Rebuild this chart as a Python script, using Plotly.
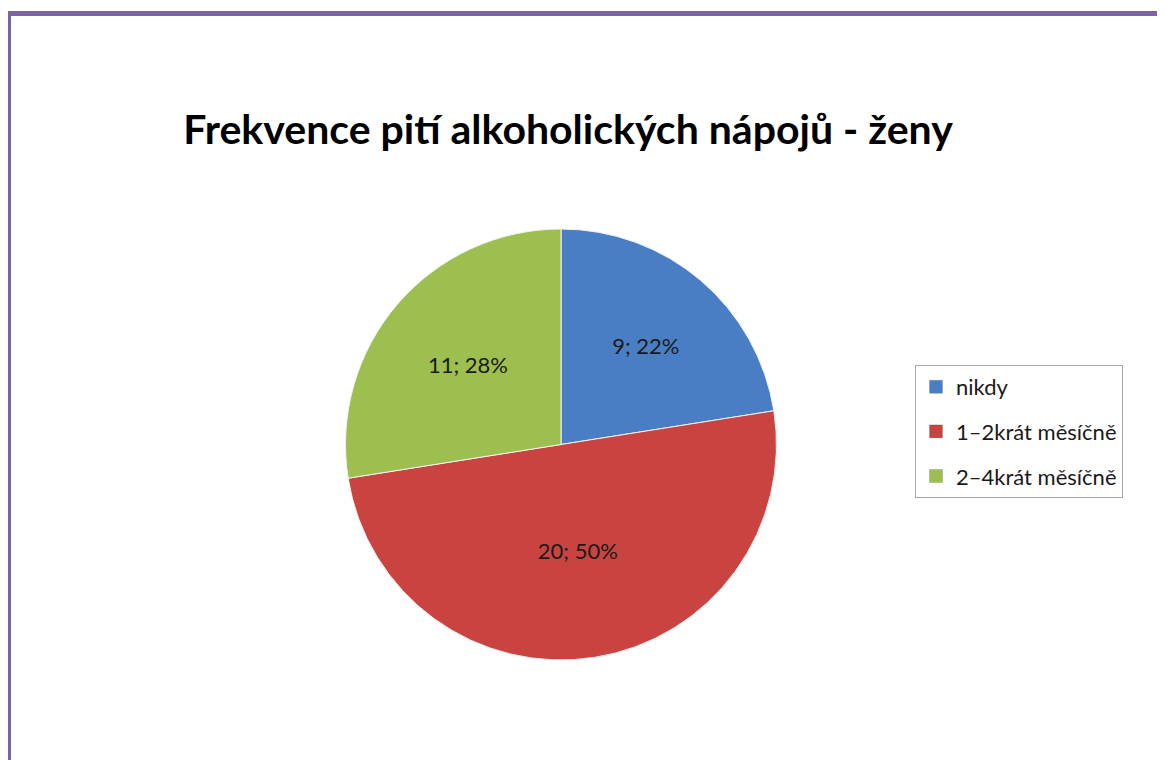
import plotly.graph_objects as go

# data
categories = ["nikdy", "1–2krát měsíčně", "2–4krát měsíčně"]
counts = [9, 20, 11]
pct_labels = ["22%", "50%", "28%"]
colors = ["#4A7EC4", "#C94441", "#9CBF4F"]

FONT = "Lato, 'Open Sans', sans-serif"
W, H = 1165, 760

fig = go.Figure()

fig.add_trace(go.Pie(
    labels=categories,
    values=counts,
    text=pct_labels,
    texttemplate="%{value}; %{text}",
    textinfo="text",
    textposition="inside",
    insidetextorientation="horizontal",
    textfont=dict(family=FONT, size=22, color="#1a1a1a"),
    marker=dict(colors=colors, line=dict(color="#f3f3f3", width=1)),
    sort=False,
    direction="clockwise",
    rotation=0,
    showlegend=False,
    hoverinfo="label+value+percent",
    domain=dict(x=[336 / W, 770 / W], y=[1 - 652 / H, 1 - 221 / H]),
))

# legend entries (separate groups so the item spacing can be set)
for cat, col in zip(categories, colors):
    fig.add_trace(go.Scatter(
        x=[None], y=[None], mode="markers", name=cat, legendgroup=cat,
        marker=dict(symbol="square", size=13, color=col,
                    line=dict(color="rgba(0,0,0,0.25)", width=0.5)),
    ))

fig.update_xaxes(visible=False)
fig.update_yaxes(visible=False)

fig.update_layout(
    width=W,
    height=H,
    margin=dict(l=0, r=0, t=0, b=0),
    paper_bgcolor="white",
    plot_bgcolor="white",
    font=dict(family=FONT, color="#1a1a1a"),
    title=dict(
        text="<b>Frekvence pití alkoholických nápojů - ženy</b>",
        x=560 / W, xanchor="center",
        y=1 - 122 / H, yanchor="middle",
        font=dict(family=FONT, size=41, color="#000000"),
    ),
    legend=dict(
        x=907 / W, xanchor="left",
        y=1 - 357 / H, yanchor="top",
        bordercolor="#a6a6a6", borderwidth=1,
        bgcolor="white",
        font=dict(family=FONT, size=22, color="#1a1a1a"),
        itemwidth=30,
        itemsizing="trace",
        tracegroupgap=13,
    ),
    shapes=[
        # purple frame of the slide
        dict(type="rect", xref="paper", yref="paper",
             x0=0.5 / W, x1=1.02, y0=-0.02, y1=1 - 5.5 / H,
             line=dict(color="#7B62A0", width=5), layer="above"),
    ],
)

fig.write_html("out.html")
